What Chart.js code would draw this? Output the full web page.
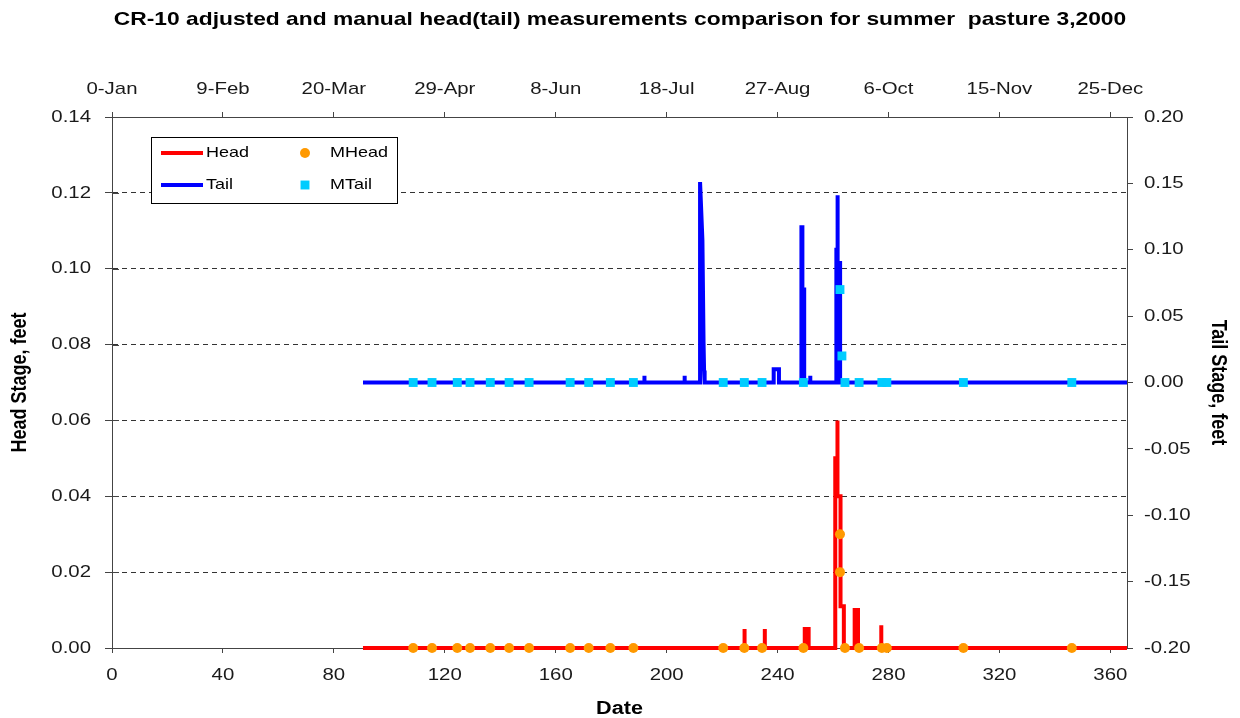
<!DOCTYPE html>
<html>
<head>
<meta charset="utf-8">
<title>CR-10 head and tail stage, summer pasture 3, 2000</title>
<script src="https://cdn.jsdelivr.net/npm/chart.js@4.4.1/dist/chart.umd.min.js"></script>
<style>
  html, body { margin: 0; padding: 0; background: #ffffff; }
  canvas { display: block; }
</style>
</head>
<body>
<canvas id="chart" width="1240" height="718"></canvas>
<script>
// Day-of-year ticks (bottom axis) and the calendar labels for the same days (top axis)
const dayTicks = [0, 40, 80, 120, 160, 200, 240, 280, 320, 360];
const dateLabels = ['0-Jan', '9-Feb', '20-Mar', '29-Apr', '8-Jun', '18-Jul', '27-Aug', '6-Oct', '15-Nov', '25-Dec'];

// Stage axes
const headTicks = [0, 0.02, 0.04, 0.06, 0.08, 0.10, 0.12, 0.14];
const headTickLabels = ['0.00', '0.02', '0.04', '0.06', '0.08', '0.10', '0.12', '0.14'];
const tailTicks = [-0.20, -0.15, -0.10, -0.05, 0, 0.05, 0.10, 0.15, 0.20];
const tailTickLabels = ['-0.20', '-0.15', '-0.10', '-0.05', '0.00', '0.05', '0.10', '0.15', '0.20'];

// CR-10 logger record, head stage (feet) by day of year
const headDays   = [90.5, 228.1, 228.1, 228.1, 235.4, 235.4, 235.4, 249.8, 249.8, 251.2, 251.2,
                    260.8, 260.8, 261.6, 261.6, 261.6, 262.7, 262.7, 263.9, 263.9,
                    267.8, 267.8, 269.0, 269.0, 277.4, 277.4, 277.4, 366];
const headValues = [0, 0, 0.005, 0, 0, 0.005, 0, 0, 0.005, 0.005, 0,
                    0, 0.050, 0.050, 0.060, 0.040, 0.040, 0.011, 0.011, 0,
                    0, 0.010, 0.010, 0, 0, 0.006, 0, 0];

// CR-10 logger record, tail stage (feet) by day of year
const tailDays   = [90.5, 192.0, 192.0, 192.0, 206.5, 206.5, 206.5,
                    212.05, 212.05, 212.9, 213.3, 213.5, 213.7,
                    238.6, 238.6, 240.5, 240.5,
                    248.6, 248.6, 248.95, 248.95, 249.6, 249.6,
                    251.8, 251.8, 251.8,
                    261.2, 261.2, 261.6, 261.6, 261.7, 262.55, 262.55, 366];
const tailValues = [0, 0, 0.005, 0, 0, 0.005, 0,
                    0, 0.151, 0.107, 0.031, 0.009, 0,
                    0, 0.010, 0.010, 0,
                    0, 0.117, 0.117, 0.070, 0.070, 0,
                    0, 0.005, 0,
                    0, 0.100, 0.100, 0.141, 0.090, 0.090, 0, 0];

// Manual readings
const mHeadDays   = [108.6, 115.4, 124.5, 129.1, 136.4, 143.2, 150.4, 165.2, 171.9, 179.7, 188.0,
                     220.4, 228.0, 234.4, 249.3, 262.5, 262.5, 264.3, 269.4, 277.6, 279.4, 307.0, 346.1];
const mHeadValues = [0, 0, 0, 0, 0, 0, 0, 0, 0, 0, 0,
                     0, 0, 0, 0, 0.03, 0.02, 0, 0, 0, 0, 0, 0];
const mTailDays   = [108.6, 115.4, 124.5, 129.1, 136.4, 143.2, 150.4, 165.2, 171.9, 179.7, 188.0,
                     220.4, 228.0, 234.4, 249.3, 262.5, 263.2, 264.3, 269.4, 277.6, 279.4, 307.0, 346.1];
const mTailValues = [0, 0, 0, 0, 0, 0, 0, 0, 0, 0, 0,
                     0, 0, 0, 0, 0.07, 0.02, 0, 0, 0, 0, 0, 0];

const FONT = "'Liberation Sans', Arial, Helvetica, sans-serif";
const TEXT_WIDEN = 1.2;   // text is set horizontally widened
const AXIS_COLOR = '#444444';
const TEXT_COLOR = '#1a1a1a';

const points = (xs, ys) => xs.map((x, i) => ({ x: x, y: ys[i] }));

// Widen every glyph run horizontally (screen x) about its anchor point.
function widenText(ctx, k) {
  const fill = ctx.fillText;
  ctx.fillText = function (text, x, y, maxWidth) {
    const m = this.getTransform();
    const p = m.transformPoint(new DOMPoint(x, y));
    this.save();
    this.setTransform(new DOMMatrix().translate(p.x, p.y).scale(k, 1).translate(-p.x, -p.y).multiply(m));
    if (maxWidth === undefined) fill.call(this, text, x, y);
    else fill.call(this, text, x, y, maxWidth / k);
    this.restore();
  };
}

const useTicks = values => scale => { scale.ticks = values.map(v => ({ value: v })); };

// Short tick marks on the plot side of the head axis
const innerTicks = {
  id: 'innerTicks',
  beforeDatasetsDraw(chart) {
    const s = chart.scales.y;
    const ctx = chart.ctx;
    ctx.save();
    ctx.strokeStyle = AXIS_COLOR;
    ctx.lineWidth = 1;
    ctx.beginPath();
    s.ticks.forEach((t, i) => {
      const y = Math.round(s.getPixelForTick(i)) + 0.5;
      ctx.moveTo(s.right, y);
      ctx.lineTo(s.right + 7, y);
    });
    ctx.stroke();
    ctx.restore();
  }
};

// Boxed two-column legend inside the plot
const boxLegend = {
  id: 'boxLegend',
  afterDatasetsDraw(chart) {
    const ctx = chart.ctx;
    const ds = chart.data.datasets;
    const rows = [153, 185];
    ctx.save();
    ctx.fillStyle = '#ffffff';
    ctx.fillRect(151, 137, 246, 66);
    ctx.strokeStyle = '#000000';
    ctx.lineWidth = 1;
    ctx.strokeRect(151.5, 137.5, 246, 66);
    ctx.font = '15px ' + FONT;
    ctx.textAlign = 'left';
    ctx.textBaseline = 'middle';
    [0, 1].forEach((di, r) => {
      const d = ds[di];
      ctx.strokeStyle = d.borderColor;
      ctx.lineWidth = d.borderWidth;
      ctx.beginPath();
      ctx.moveTo(161, rows[r]);
      ctx.lineTo(203, rows[r]);
      ctx.stroke();
      ctx.fillStyle = '#000000';
      ctx.fillText(d.label, 206, rows[r]);
    });
    [2, 3].forEach((di, r) => {
      const d = ds[di];
      ctx.fillStyle = d.backgroundColor;
      ctx.beginPath();
      if (d.pointStyle === 'circle') {
        ctx.arc(305, rows[r], d.pointRadius, 0, Math.PI * 2);
      } else {
        const h = d.pointRadius * Math.SQRT1_2;
        ctx.rect(305 - h, rows[r] - h, 2 * h, 2 * h);
      }
      ctx.fill();
      ctx.fillStyle = '#000000';
      ctx.fillText(d.label, 330, rows[r]);
    });
    ctx.restore();
  }
};

const tickFont = { family: FONT, size: 17 };
const titleFont = { family: FONT, size: 18, weight: 'bold', lineHeight: 1 };

const canvas = document.getElementById('chart');
const ctx = canvas.getContext('2d');
widenText(ctx, TEXT_WIDEN);

new Chart(ctx, {
  type: 'line',
  data: {
    datasets: [
      {
        label: 'Head', data: points(headDays, headValues), xAxisID: 'x', yAxisID: 'y',
        borderColor: '#ff0000', backgroundColor: '#ff0000', borderWidth: 4,
        pointRadius: 0, tension: 0, fill: false, clip: false, order: 2
      },
      {
        label: 'Tail', data: points(tailDays, tailValues), xAxisID: 'x', yAxisID: 'y2',
        borderColor: '#0000ff', backgroundColor: '#0000ff', borderWidth: 4,
        pointRadius: 0, tension: 0, fill: false, clip: false, order: 2
      },
      {
        label: 'MHead', data: points(mHeadDays, mHeadValues), xAxisID: 'x', yAxisID: 'y',
        showLine: false, pointStyle: 'circle', pointRadius: 5, pointBorderWidth: 0,
        backgroundColor: '#ff9900', borderColor: '#ff9900', clip: false, order: 0
      },
      {
        label: 'MTail', data: points(mTailDays, mTailValues), xAxisID: 'x', yAxisID: 'y2',
        showLine: false, pointStyle: 'rect', pointRadius: 6.3, pointBorderWidth: 0,
        backgroundColor: '#00ccff', borderColor: '#00ccff', clip: false, order: 0
      }
    ]
  },
  options: {
    responsive: false,
    devicePixelRatio: 1,
    animation: false,
    events: [],
    layout: { padding: 0 },
    plugins: {
      legend: { display: false },
      tooltip: { enabled: false },
      title: {
        display: true,
        text: 'CR-10 adjusted and manual head(tail) measurements comparison for summer  pasture 3,2000',
        color: '#000000',
        font: { family: FONT, size: 19, weight: 'bold', lineHeight: 1 },
        padding: { top: 10.5, bottom: 0.5 }
      }
    },
    scales: {
      x: {
        type: 'linear', position: 'bottom', axis: 'x', min: 0, max: 366,
        afterBuildTicks: useTicks(dayTicks),
        afterFit: s => { s.height = 70; },
        ticks: { font: tickFont, color: TEXT_COLOR, padding: 12, autoSkip: false, maxRotation: 0, minRotation: 0 },
        grid: { drawOnChartArea: false, tickLength: 5, color: AXIS_COLOR },
        border: { display: true, color: AXIS_COLOR, width: 1 },
        title: { display: true, text: 'Date', color: '#000000', font: titleFont, padding: { top: 0, bottom: 0 } }
      },
      x2: {
        type: 'linear', position: 'top', axis: 'x', display: true, min: 0, max: 366,
        afterBuildTicks: useTicks(dayTicks),
        afterFit: s => { s.height = 87; },
        ticks: {
          font: tickFont, color: TEXT_COLOR, padding: 12, autoSkip: false, maxRotation: 0, minRotation: 0,
          callback: (v, i) => dateLabels[i]
        },
        grid: { drawOnChartArea: false, tickLength: 5, color: AXIS_COLOR },
        border: { display: true, color: AXIS_COLOR, width: 1 }
      },
      y: {
        type: 'linear', position: 'left', axis: 'y', min: 0, max: 0.14,
        afterBuildTicks: useTicks(headTicks),
        afterFit: s => { s.width = 112; },
        ticks: { font: tickFont, color: TEXT_COLOR, padding: 14, callback: (v, i) => headTickLabels[i] },
        grid: {
          drawOnChartArea: true, tickLength: 7, lineWidth: 1, tickColor: AXIS_COLOR,
          color: c => (c.tick && (c.tick.value === 0 || c.tick.value === 0.14)) ? 'rgba(0,0,0,0)' : '#333333'
        },
        border: { display: true, color: AXIS_COLOR, width: 1, dash: [5, 4] },
        title: { display: true, text: 'Head Stage, feet', color: '#000000', font: titleFont, padding: { top: 11, bottom: 0 } }
      },
      y2: {
        type: 'linear', position: 'right', axis: 'y', min: -0.2, max: 0.2,
        afterBuildTicks: useTicks(tailTicks),
        afterFit: s => { s.width = 113; },
        ticks: { font: tickFont, color: TEXT_COLOR, padding: 11, callback: (v, i) => tailTickLabels[i] },
        grid: { drawOnChartArea: false, tickLength: 6, color: AXIS_COLOR },
        border: { display: true, color: AXIS_COLOR, width: 1 },
        title: { display: true, text: 'Tail Stage, feet', color: '#000000', font: titleFont, padding: { top: 13, bottom: 0 } }
      }
    }
  },
  plugins: [innerTicks, boxLegend]
});
</script>
</body>
</html>
